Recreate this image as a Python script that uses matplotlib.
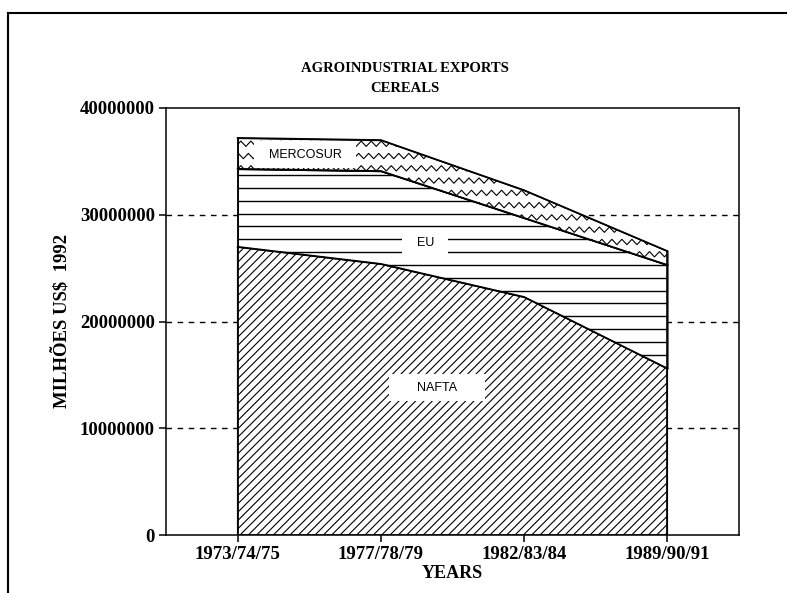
import numpy as np
import matplotlib
matplotlib.use("Agg")
from matplotlib import pyplot as plt
from matplotlib.lines import Line2D
from matplotlib.ticker import FuncFormatter

# data (US$ 1992)
periods = ["1973/74/75", "1977/78/79", "1982/83/84", "1989/90/91"]
nafta = [27.0e6, 25.4e6, 22.3e6, 15.6e6]
eu = [7.3e6, 8.7e6, 7.4e6, 9.7e6]
mercosur = [2.9e6, 2.9e6, 2.6e6, 1.3e6]
y_ticks = [0, 10000000, 20000000, 30000000, 40000000]

plt.rcParams["hatch.linewidth"] = 0.8
serif = "Liberation Serif"
sans = "Liberation Sans"

fig = plt.figure(figsize=(7.87, 5.93), dpi=100)
ax = fig.add_axes([166 / 787, 1 - 535 / 593, (739 - 166) / 787, (535 - 108) / 593])

x = np.arange(len(periods))
nafta_top = np.array(nafta)
eu_top = nafta_top + np.array(eu)
merc_top = eu_top + np.array(mercosur)

# dashed grid behind the areas
for v in y_ticks[1:-1]:
    ax.axhline(v, color="black", lw=1.0, ls=(0, (4, 4)), zorder=0)

# NAFTA: diagonal hatch
ax.fill_between(x, 0, nafta_top, facecolor="white", edgecolor="black",
                hatch="////", lw=1.0, zorder=2)

# EU: horizontal lines clipped to the area
eu_poly = ax.fill_between(x, nafta_top, eu_top, facecolor="white",
                          edgecolor="black", lw=1.0, zorder=2)
eu_path = eu_poly.get_paths()[0]
for lev in np.arange(33.7e6, 14e6, -1.2e6):
    ln = Line2D([-0.1, 3.1], [lev, lev], color="black", lw=1.0, zorder=3)
    ax.add_line(ln)
    ln.set_clip_path(eu_path, ax.transData)

# MERCOSUR: zigzag pattern clipped to the area
merc_poly = ax.fill_between(x, eu_top, merc_top, facecolor="white",
                            edgecolor="black", lw=1.0, zorder=2)
merc_path = merc_poly.get_paths()[0]
period = 0.07
zx = np.arange(-0.1, 3.15, period / 2)
for k, row in enumerate(np.arange(24.0e6, 38.5e6, 1.15e6)):
    shift = (k % 2) * period / 4
    zy = row + np.where(np.arange(len(zx)) % 2 == 0, -0.25e6, 0.25e6)
    ln = Line2D(zx + shift, zy, color="black", lw=0.8, zorder=3)
    ax.add_line(ln)
    ln.set_clip_path(merc_path, ax.transData)

# outlines on top again
for top in (nafta_top, eu_top, merc_top):
    ax.plot(x, top, color="black", lw=1.2, zorder=4)
ax.plot([0, 0], [0, merc_top[0]], color="black", lw=1.2, zorder=4)
ax.plot([3, 3], [0, merc_top[-1]], color="black", lw=1.2, zorder=4)

box = dict(facecolor="white", edgecolor="none", boxstyle="square,pad=0.6")
ax.text(0.47, 35.6e6, "  MERCOSUR  ", family=sans, fontsize=9,
        ha="center", va="center", bbox=box, zorder=5)
ax.text(1.31, 27.35e6, "  EU  ", family=sans, fontsize=9,
        ha="center", va="center", bbox=box, zorder=5)
ax.text(1.39, 13.8e6, "      NAFTA      ", family=sans, fontsize=9,
        ha="center", va="center", bbox=box, zorder=5)

ax.set_xlim(-0.5, 3.5)
ax.set_ylim(0, 40000000)
ax.set_xticks(x)
ax.set_xticklabels(periods)
ax.set_yticks(y_ticks)
ax.yaxis.set_major_formatter(FuncFormatter(lambda v, p: "%d" % v))
ax.tick_params(direction="out", length=5, width=1.1, pad=3)
for lab in ax.get_xticklabels() + ax.get_yticklabels():
    lab.set_family(serif)
    lab.set_fontweight("bold")
    lab.set_fontsize(13.5)
for s in ax.spines.values():
    s.set_linewidth(1.1)

ax.set_xlabel("YEARS", family=serif, fontweight="bold", fontsize=13, labelpad=1)
ax.set_ylabel("MILHÕES US$  1992", family=serif, fontweight="bold",
              fontsize=13.5, labelpad=6)

fig.text(405 / 787, 1 - 68 / 593, "AGROINDUSTRIAL EXPORTS", family=serif,
         fontweight="bold", fontsize=10.5, ha="center", va="center")
fig.text(405 / 787, 1 - 88 / 593, "CEREALS", family=serif,
         fontweight="bold", fontsize=10.5, ha="center", va="center")

# outer frame (left and top edges visible)
fig.add_artist(Line2D([8 / 787, 8 / 787], [0, 1 - 13 / 593], color="black",
                      lw=1.5, transform=fig.transFigure))
fig.add_artist(Line2D([8 / 787, 1], [1 - 13 / 593, 1 - 13 / 593], color="black",
                      lw=1.5, transform=fig.transFigure))

fig.savefig("out.png", dpi=100)
